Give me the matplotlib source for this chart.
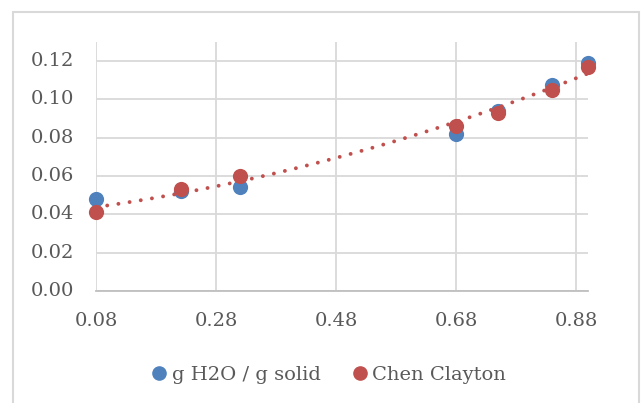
import numpy as np
import matplotlib.pyplot as plt
from matplotlib.lines import Line2D
from matplotlib.patches import Rectangle

# values
x_vals = [0.08, 0.221, 0.32, 0.68, 0.75, 0.84, 0.90]
water = [0.048, 0.052, 0.054, 0.082, 0.094, 0.1075, 0.119]
chen_clayton = [0.041, 0.0533, 0.060, 0.086, 0.093, 0.105, 0.117]
x_ticks = [0.08, 0.28, 0.48, 0.68, 0.88]
y_ticks = [0.00, 0.02, 0.04, 0.06, 0.08, 0.10, 0.12]

blue = '#4F81BD'
red = '#C0504D'
text_col = '#595959'
grid_col = '#D9D9D9'

W, H = 641, 403
plt.rcParams['font.family'] = ['DejaVu Serif']

fig = plt.figure(figsize=(W / 100, H / 100), dpi=100)
# chart area border (cropped at bottom in the reference)
fig.patches.append(Rectangle((12.5 / W, -0.05), (638.5 - 12.5) / W, 1.05 - 12.5 / H,
                             transform=fig.transFigure, fill=False,
                             edgecolor='#D9D9D9', linewidth=1.5))

ax = fig.add_axes([96 / W, 1 - 291 / H, (588 - 96) / W, (291 - 41.7) / H])
ax.set_xlim(0.08, 0.90)
ax.set_ylim(0, 0.13)
ax.set_xticks(x_ticks)
ax.set_yticks(y_ticks)
ax.set_xticklabels(['%.2f' % t for t in x_ticks])
ax.set_yticklabels(['%.2f' % t for t in y_ticks])
ax.tick_params(length=0, labelsize=14, colors=text_col)
ax.tick_params(axis='y', pad=16)
ax.tick_params(axis='x', pad=15)
for lab in ax.get_yticklabels():
    lab.set_verticalalignment('center')
ax.grid(True, color=grid_col, linewidth=1.3)
ax.set_axisbelow(True)
for s in ['top', 'right', 'left']:
    ax.spines[s].set_visible(False)
ax.spines['bottom'].set_color('#BFBFBF')
ax.spines['bottom'].set_linewidth(1.3)

ax.scatter(x_vals, water, s=120, color=blue, zorder=3, clip_on=False, linewidths=0)
ax.scatter(x_vals, chen_clayton, s=120, color=red, zorder=4, clip_on=False, linewidths=0)

# polynomial trendline on the Chen Clayton series
coef = np.polyfit(x_vals, chen_clayton, 2)
xs = np.linspace(min(x_vals), max(x_vals), 200)
ax.plot(xs, np.polyval(coef, xs), color=red, linestyle=(0, (0.01, 2.9)),
        linewidth=2.8, dash_capstyle='round', zorder=5)

handles = [Line2D([], [], marker='o', linestyle='', color=blue, markersize=9.5),
           Line2D([], [], marker='o', linestyle='', color=red, markersize=9.5)]
fig.legend(handles, ['g H2O / g solid', 'Chen Clayton'], loc='center',
           bbox_to_anchor=(327 / W, 1 - 375 / H), ncol=2, frameon=False,
           fontsize=14, labelcolor=text_col, handletextpad=0.05,
           columnspacing=1.4, handlelength=1.2)

fig.savefig('out.png', dpi=100)
